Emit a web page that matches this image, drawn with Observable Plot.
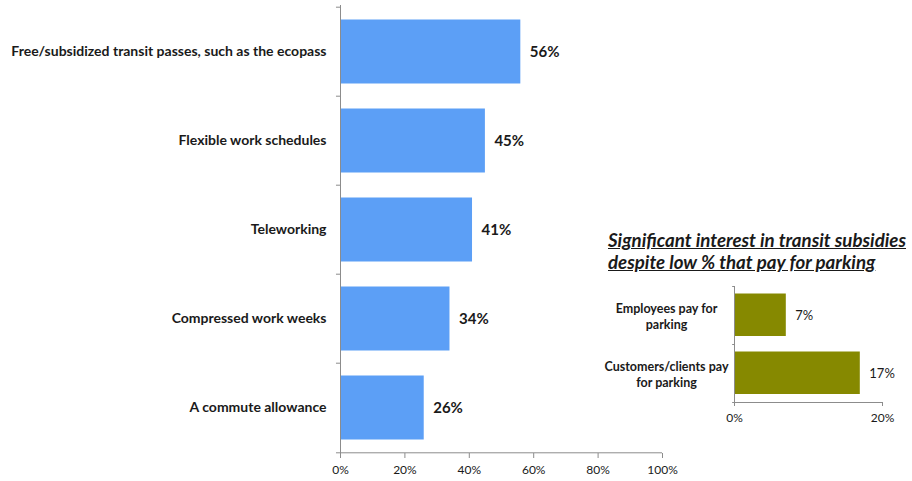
<!DOCTYPE html>
<html>
<head>
<meta charset="utf-8">
<script src="https://cdn.jsdelivr.net/npm/d3@7"></script>
<script src="https://cdn.jsdelivr.net/npm/@observablehq/plot@0.6"></script>
<style>
  html, body { margin: 0; padding: 0; background: #fff; }
  #wrap { position: relative; width: 912px; height: 481px; overflow: hidden; font-family: Lato, "Open Sans", sans-serif; }
  #main { position: absolute; left: 0; top: 0; }
  #inset { position: absolute; left: 580px; top: 280px; }
  #title { position: absolute; left: 608px; top: 229px; font-size: 18.7px; font-weight: bold; font-style: italic; text-decoration: underline; line-height: 22px; color: #1a1a1a; white-space: nowrap; }
</style>
</head>
<body>
<div id="wrap">
  <div id="main"></div>
  <div id="title">Significant interest in transit subsidies<br>despite low % that pay for parking</div>
  <div id="inset"></div>
</div>
<script>
const categories = [
  "Free/subsidized transit passes, such as the ecopass",
  "Flexible work schedules",
  "Teleworking",
  "Compressed work weeks",
  "A commute allowance"
];
const values = [0.56, 0.45, 0.41, 0.34, 0.26];
const xTicks = [0, 0.2, 0.4, 0.6, 0.8, 1.0];

const insetCategories = ["Employees pay for\nparking", "Customers/clients pay\nfor parking"];
const insetValues = [0.07, 0.17];
const insetTicks = [0, 0.2];

const pct = d3.format(".0%");
const axisColor = "#8c8c8c";

const data = categories.map((c, i) => ({category: c, value: values[i]}));
const insetData = insetCategories.map((c, i) => ({category: c, value: insetValues[i]}));

const mainStep = (481 - 5 - 28) / categories.length;
const main = Plot.plot({
  width: 700, height: 481,
  marginLeft: 340, marginRight: 38, marginTop: 5, marginBottom: 28,
  style: {fontFamily: "Lato, 'Open Sans', sans-serif", fontSize: "13px", color: "#1a1a1a", background: "transparent"},
  x: {domain: [0, 1]},
  y: {domain: categories, padding: 0},
  marks: [
    Plot.barX(data, {x: "value", y: "category", fill: "#5c9ff6", insetTop: 12.5, insetBottom: 12.5}),
    Plot.text(data, {x: "value", y: "category", text: d => pct(d.value), textAnchor: "start", dx: 9, fontWeight: "bold", fontSize: 15, fill: "#1a1a1a"}),
    Plot.axisY({tickSize: 0, tickPadding: 14, fontWeight: "bold", fontSize: 14, label: null}),
    Plot.axisX({ticks: xTicks, tickFormat: pct, tickSize: 5, tickPadding: 7, stroke: axisColor, fontSize: 12, label: null, fill: "#1a1a1a"}),
    Plot.ruleX([0], {stroke: axisColor}),
    Plot.ruleY(categories, {y: d => d, x1: -0.0125, x2: 0, dy: -mainStep / 2, stroke: axisColor}),
    Plot.ruleY([categories[categories.length - 1]], {y: d => d, x1: -0.0125, x2: 1, dy: mainStep / 2, stroke: axisColor})
  ]
});
document.getElementById("main").appendChild(main);

const insetStep = (150 - 6 - 28) / insetCategories.length;
const inset = Plot.plot({
  width: 332, height: 150,
  marginLeft: 154, marginRight: 30, marginTop: 6, marginBottom: 28,
  style: {fontFamily: "Lato, 'Open Sans', sans-serif", fontSize: "12px", color: "#1a1a1a", background: "transparent"},
  x: {domain: [0, 0.2]},
  y: {domain: insetCategories, padding: 0, axis: null},
  marks: [
    Plot.barX(insetData, {x: "value", y: "category", fill: "#868900", insetTop: 7.5, insetBottom: 8}),
    Plot.text(insetData, {x: "value", y: "category", text: d => pct(d.value), textAnchor: "start", dx: 9, fontSize: 13, fill: "#1a1a1a"}),
    Plot.text(insetData, {x: 0, y: "category", text: "category", textAnchor: "middle", dx: -68, fontWeight: "bold", fontSize: 12.5, lineHeight: 1.3, fill: "#1a1a1a"}),
    Plot.axisX({ticks: insetTicks, tickFormat: pct, tickSize: 4, tickPadding: 7, stroke: axisColor, fontSize: 12, label: null, fill: "#1a1a1a"}),
    Plot.ruleX([0], {stroke: axisColor}),
    Plot.ruleY(insetCategories, {y: d => d, x1: -0.0025, x2: 0, dy: -insetStep / 2, stroke: axisColor}),
    Plot.ruleY([insetCategories[insetCategories.length - 1]], {y: d => d, x1: -0.0025, x2: 0.2, dy: insetStep / 2, stroke: axisColor})
  ]
});
document.getElementById("inset").appendChild(inset);
</script>
</body>
</html>
